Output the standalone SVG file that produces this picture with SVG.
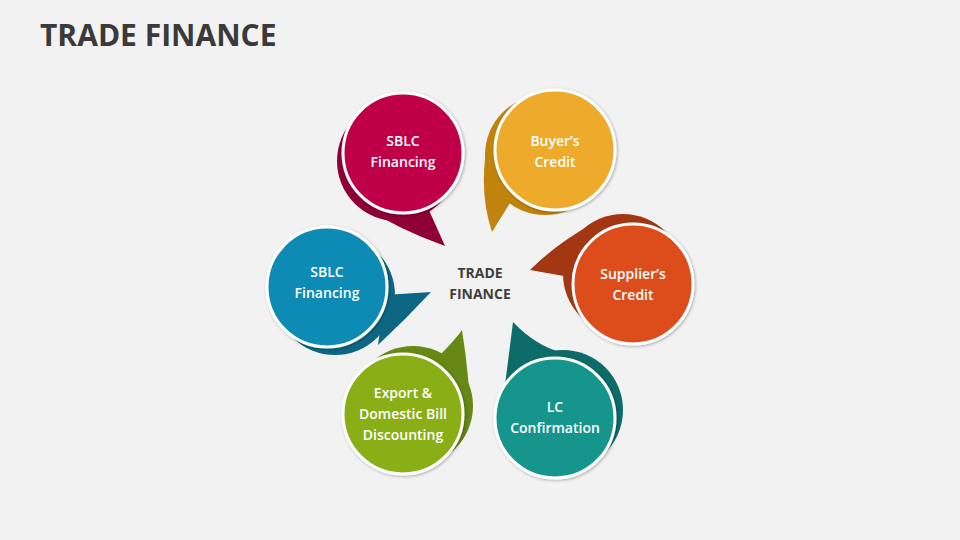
<svg xmlns="http://www.w3.org/2000/svg" width="960" height="540" viewBox="0 0 960 540">
<defs>
<filter id="sh" x="-20%" y="-20%" width="140%" height="140%"><feDropShadow dx="1" dy="1" stdDeviation="1.5" flood-color="#000" flood-opacity="0.3"/></filter>
</defs>
<style>
.c{stroke:#fff;stroke-width:3;filter:url(#sh)}
.t{font-family:"Open Sans","Liberation Sans",sans-serif;font-weight:600;font-size:14px;fill:#fff;text-anchor:middle}
.m{font-family:"Open Sans","Liberation Sans",sans-serif;font-weight:700;font-size:14px;fill:#3f3f3f;text-anchor:middle}
</style>
<rect width="960" height="540" fill="#f2f2f2"/>
<text x="40" y="46" font-family="'Open Sans','Liberation Sans',sans-serif" font-weight="700" font-size="30" fill="#3a3a3a">TRADE FINANCE</text>
<g id="n1">
<circle cx="397" cy="161" r="60" fill="#8e0036"/>
<path d="M360,205 Q400,230 445,246 L428,208 Z" fill="#8e0036"/>
<circle class="c" cx="403" cy="153" r="60" fill="#bf004a"/>
<text class="t" x="403" y="146">SBLC</text><text class="t" x="403" y="167">Financing</text>
</g>
<g id="n2">
<circle cx="545" cy="155" r="60" fill="#c0830d"/>
<path d="M488,140 Q478,190 492,232 L515,195 Z" fill="#c0830d"/>
<circle class="c" cx="555" cy="150" r="60" fill="#eeaa2b"/>
<text class="t" x="555" y="146">Buyer’s</text><text class="t" x="555" y="167">Credit</text>
</g>
<g id="n3">
<circle cx="623" cy="274" r="60" fill="#a33714"/>
<path d="M590,225 Q555,245 530,270 L575,278 Z" fill="#a33714"/>
<circle class="c" cx="633" cy="284" r="60" fill="#dd4d1b"/>
<text class="t" x="633" y="279">Supplier’s</text><text class="t" x="633" y="300">Credit</text>
</g>
<g id="n4">
<circle cx="563" cy="410" r="60" fill="#0d6c6a"/>
<path d="M513,322 Q535,345 560,352 L505,385 Z" fill="#0d6c6a"/>
<circle class="c" cx="555" cy="418" r="60" fill="#12958c"/>
<text class="t" x="555" y="412">LC</text><text class="t" x="555" y="433">Confirmation</text>
</g>
<g id="n5">
<circle cx="413" cy="406" r="60" fill="#668815"/>
<path d="M440,355 Q455,340 462,330 Q470,380 470,420 Z" fill="#668815"/>
<circle class="c" cx="403" cy="414" r="60" fill="#8aae18"/>
<text class="t" x="403" y="398">Export &amp;</text><text class="t" x="403" y="419">Domestic Bill</text><text class="t" x="403" y="440">Discounting</text>
</g>
<g id="n6">
<circle cx="335" cy="295" r="60" fill="#0d6784"/>
<path d="M385,295 L431,292 Q405,320 378,345 Z" fill="#0d6784"/>
<circle class="c" cx="327" cy="287" r="60" fill="#0f8bb5"/>
<text class="t" x="327" y="277">SBLC</text><text class="t" x="327" y="298">Financing</text>
</g>
<g id="center"><text class="m" x="480" y="278">TRADE</text><text class="m" x="480" y="299">FINANCE</text></g>
<g id="connectors"/>
</svg>
